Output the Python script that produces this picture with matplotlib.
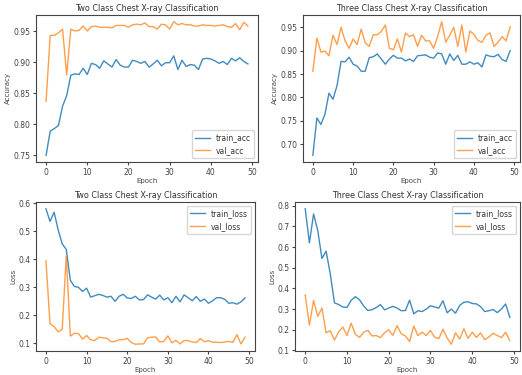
import numpy as np
import matplotlib
matplotlib.use("Agg")
import matplotlib.pyplot as plt

epochs = np.arange(50)

two_train_acc = [0.750, 0.789, 0.793, 0.798, 0.829, 0.846, 0.879, 0.881, 0.880, 0.890,
                 0.880, 0.898, 0.896, 0.890, 0.902, 0.897, 0.892, 0.904, 0.895, 0.892,
                 0.892, 0.903, 0.901, 0.898, 0.901, 0.892, 0.897, 0.903, 0.894, 0.899,
                 0.899, 0.910, 0.888, 0.903, 0.893, 0.896, 0.895, 0.888, 0.905, 0.906,
                 0.905, 0.902, 0.898, 0.901, 0.896, 0.906, 0.902, 0.907, 0.901, 0.897]
two_val_acc = [0.837, 0.943, 0.943, 0.947, 0.953, 0.879, 0.953, 0.950, 0.951, 0.958,
               0.950, 0.957, 0.958, 0.956, 0.956, 0.956, 0.955, 0.959, 0.959, 0.959,
               0.956, 0.960, 0.961, 0.960, 0.963, 0.957, 0.957, 0.953, 0.961, 0.960,
               0.953, 0.965, 0.960, 0.962, 0.960, 0.960, 0.958, 0.958, 0.960, 0.959,
               0.959, 0.958, 0.959, 0.960, 0.957, 0.956, 0.962, 0.952, 0.964, 0.958]

three_train_acc = [0.676, 0.756, 0.742, 0.764, 0.809, 0.796, 0.825, 0.877, 0.876, 0.886,
                   0.871, 0.867, 0.856, 0.856, 0.885, 0.887, 0.893, 0.882, 0.871, 0.882,
                   0.890, 0.884, 0.884, 0.878, 0.882, 0.877, 0.889, 0.890, 0.891, 0.886,
                   0.884, 0.895, 0.893, 0.871, 0.893, 0.879, 0.890, 0.871, 0.871, 0.876,
                   0.871, 0.874, 0.865, 0.891, 0.888, 0.887, 0.892, 0.881, 0.877, 0.900]
three_val_acc = [0.856, 0.927, 0.897, 0.899, 0.889, 0.933, 0.913, 0.950, 0.921, 0.905,
                 0.925, 0.913, 0.946, 0.917, 0.909, 0.934, 0.934, 0.941, 0.955, 0.905,
                 0.902, 0.925, 0.897, 0.938, 0.930, 0.934, 0.909, 0.933, 0.921, 0.921,
                 0.905, 0.931, 0.962, 0.918, 0.933, 0.950, 0.909, 0.955, 0.897, 0.942,
                 0.935, 0.922, 0.918, 0.933, 0.938, 0.909, 0.918, 0.930, 0.921, 0.951]

two_train_loss = [0.580, 0.535, 0.568, 0.505, 0.455, 0.435, 0.325, 0.303, 0.300, 0.285,
                  0.297, 0.265, 0.270, 0.275, 0.271, 0.265, 0.268, 0.250, 0.268, 0.275,
                  0.262, 0.260, 0.268, 0.255, 0.256, 0.273, 0.265, 0.258, 0.272, 0.255,
                  0.263, 0.245, 0.268, 0.248, 0.273, 0.263, 0.252, 0.267, 0.250, 0.258,
                  0.243, 0.252, 0.263, 0.263, 0.257, 0.243, 0.245, 0.240, 0.248, 0.262]
two_val_loss = [0.395, 0.170, 0.160, 0.141, 0.150, 0.412, 0.126, 0.136, 0.135, 0.115,
                0.128, 0.113, 0.110, 0.122, 0.120, 0.118, 0.106, 0.107, 0.113, 0.113,
                0.118, 0.103, 0.097, 0.098, 0.098, 0.120, 0.122, 0.123, 0.105, 0.107,
                0.127, 0.102, 0.111, 0.098, 0.110, 0.110, 0.105, 0.103, 0.117, 0.106,
                0.110, 0.104, 0.104, 0.103, 0.105, 0.107, 0.104, 0.131, 0.098, 0.122]

three_train_loss = [0.785, 0.620, 0.760, 0.680, 0.545, 0.580, 0.470, 0.330, 0.322, 0.310,
                    0.308, 0.342, 0.360, 0.345, 0.315, 0.293, 0.297, 0.307, 0.322, 0.296,
                    0.305, 0.313, 0.305, 0.292, 0.293, 0.343, 0.277, 0.292, 0.288, 0.300,
                    0.316, 0.310, 0.305, 0.340, 0.282, 0.300, 0.280, 0.318, 0.333, 0.335,
                    0.327, 0.325, 0.312, 0.288, 0.292, 0.298, 0.283, 0.300, 0.325, 0.260]
three_val_loss = [0.368, 0.222, 0.342, 0.265, 0.305, 0.185, 0.195, 0.150, 0.190, 0.213,
                  0.172, 0.232, 0.178, 0.163, 0.188, 0.197, 0.170, 0.172, 0.162, 0.185,
                  0.200, 0.173, 0.220, 0.180, 0.170, 0.143, 0.218, 0.172, 0.188, 0.172,
                  0.197, 0.163, 0.157, 0.203, 0.160, 0.130, 0.185, 0.155, 0.205, 0.158,
                  0.188, 0.163, 0.185, 0.152, 0.165, 0.183, 0.172, 0.162, 0.188, 0.148]

titles = ["Two Class Chest X-ray Classification", "Three Class Chest X-ray Classification"]

plt.rcParams.update({
    "font.size": 5.5,
    "axes.edgecolor": "#444444",
    "axes.labelcolor": "#444444",
    "xtick.color": "#444444",
    "ytick.color": "#444444",
    "text.color": "#333333",
    "lines.linewidth": 1.0,
})

W, H = 522, 375
fig = plt.figure(figsize=(W / 100, H / 100), dpi=100)


def px_axes(left, top, right, bottom):
    return fig.add_axes([left / W, 1 - bottom / H, (right - left) / W, (bottom - top) / H])


panels = [
    (px_axes(36, 15, 258, 162), two_train_acc, two_val_acc, titles[0], "Accuracy", "acc", "lower right"),
    (px_axes(303, 15, 520, 162), three_train_acc, three_val_acc, titles[1], "Accuracy", "acc", "lower right"),
    (px_axes(36, 202, 255, 351), two_train_loss, two_val_loss, titles[0], "Loss", "loss", "upper right"),
    (px_axes(295, 202, 520, 351), three_train_loss, three_val_loss, titles[1], "Loss", "loss", "upper right"),
]

for ax, train, val, title, ylabel, key, loc in panels:
    ax.plot(epochs, train, color="#1f77b4", alpha=0.85, label="train_" + key)
    ax.plot(epochs, val, color="#ff7f0e", alpha=0.75, label="val_" + key)
    ax.set_title(title, fontsize=5.8, pad=3)
    ax.set_xlabel("Epoch", fontsize=5, labelpad=1)
    ax.set_ylabel(ylabel, fontsize=5, labelpad=1.5)
    ax.tick_params(labelsize=5.5, length=2.5, pad=1.5)
    ax.legend(loc=loc, fontsize=5.5)

fig.savefig("out.png", dpi=100)
